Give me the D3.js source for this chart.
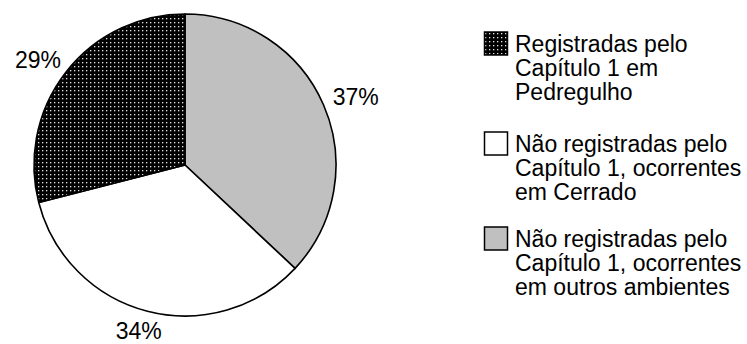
<!DOCTYPE html>
<html><head><meta charset="utf-8">
<script src="https://cdn.jsdelivr.net/npm/d3@7/dist/d3.min.js"></script>
<style>body{margin:0;background:#fff}svg{display:block}text{font-family:"Liberation Sans",Arial,sans-serif;fill:#000}</style>
</head><body>
<svg id="c" width="747" height="344"></svg>
<script>
const categories = ["Não registradas pelo Capítulo 1, ocorrentes em outros ambientes",
                    "Não registradas pelo Capítulo 1, ocorrentes em Cerrado",
                    "Registradas pelo Capítulo 1 em Pedregulho"];
const values = [37, 34, 29];
const labels = ["37%", "34%", "29%"];
const legendOrder = [2, 1, 0];
const legendLines = [["Registradas pelo","Capítulo 1 em","Pedregulho"],
                     ["Não registradas pelo","Capítulo 1, ocorrentes","em Cerrado"],
                     ["Não registradas pelo","Capítulo 1, ocorrentes","em outros ambientes"]];

const svg = d3.select("#c");
const defs = svg.append("defs");
const pat = defs.append("pattern").attr("id","dots").attr("patternUnits","userSpaceOnUse")
  .attr("width",4).attr("height",4);
pat.append("rect").attr("width",4).attr("height",4).attr("fill","#000");
pat.append("rect").attr("x",1).attr("y",1).attr("width",1.3).attr("height",1.3).attr("fill","#e6e6e6");

const fills = ["#c0c0c0", "#ffffff", "url(#dots)"];
const cx = 185, cy = 165, r = 151;
const fs = 23;
const pie = d3.pie().sort(null).value(d => d);
const arcs = pie(values);
const arc = d3.arc().innerRadius(0).outerRadius(r);
const anchorArc = d3.arc().innerRadius(163).outerRadius(163);
const g = svg.append("g").attr("transform", `translate(${cx},${cy})`);
g.selectAll("path").data(arcs).join("path")
  .attr("d", arc).attr("fill", (d,i) => fills[i])
  .attr("stroke", "#000").attr("stroke-width", 1.6).attr("stroke-linejoin","round");
g.selectAll("text").data(arcs).join("text")
  .attr("text-anchor","middle").attr("dominant-baseline","central")
  .attr("font-size", fs).text((d,i) => labels[i])
  .attr("transform", function(d) {
    const [ax, ay] = anchorArc.centroid(d);
    const bb = this.getBBox();
    const a = (d.startAngle + d.endAngle) / 2;
    const w = bb.width, h = fs * 0.72;
    return `translate(${ax + Math.sin(a) * w / 2},${ay - Math.cos(a) * h / 2})`;
  });

const lg = svg.append("g");
const groupY = [52, 152, 247];
const lineH = 24;
legendOrder.forEach((idx, k) => {
  const gy = groupY[k];
  lg.append("rect").attr("x", 484.5).attr("y", gy - 20).attr("width", 23).attr("height", 23)
    .attr("fill", fills[idx]).attr("stroke", "#000").attr("stroke-width", 1.5);
  legendLines[k].forEach((t, j) => {
    lg.append("text").attr("x", 515).attr("y", gy + j*lineH).attr("font-size", fs).text(t);
  });
});
</script>
</body></html>
